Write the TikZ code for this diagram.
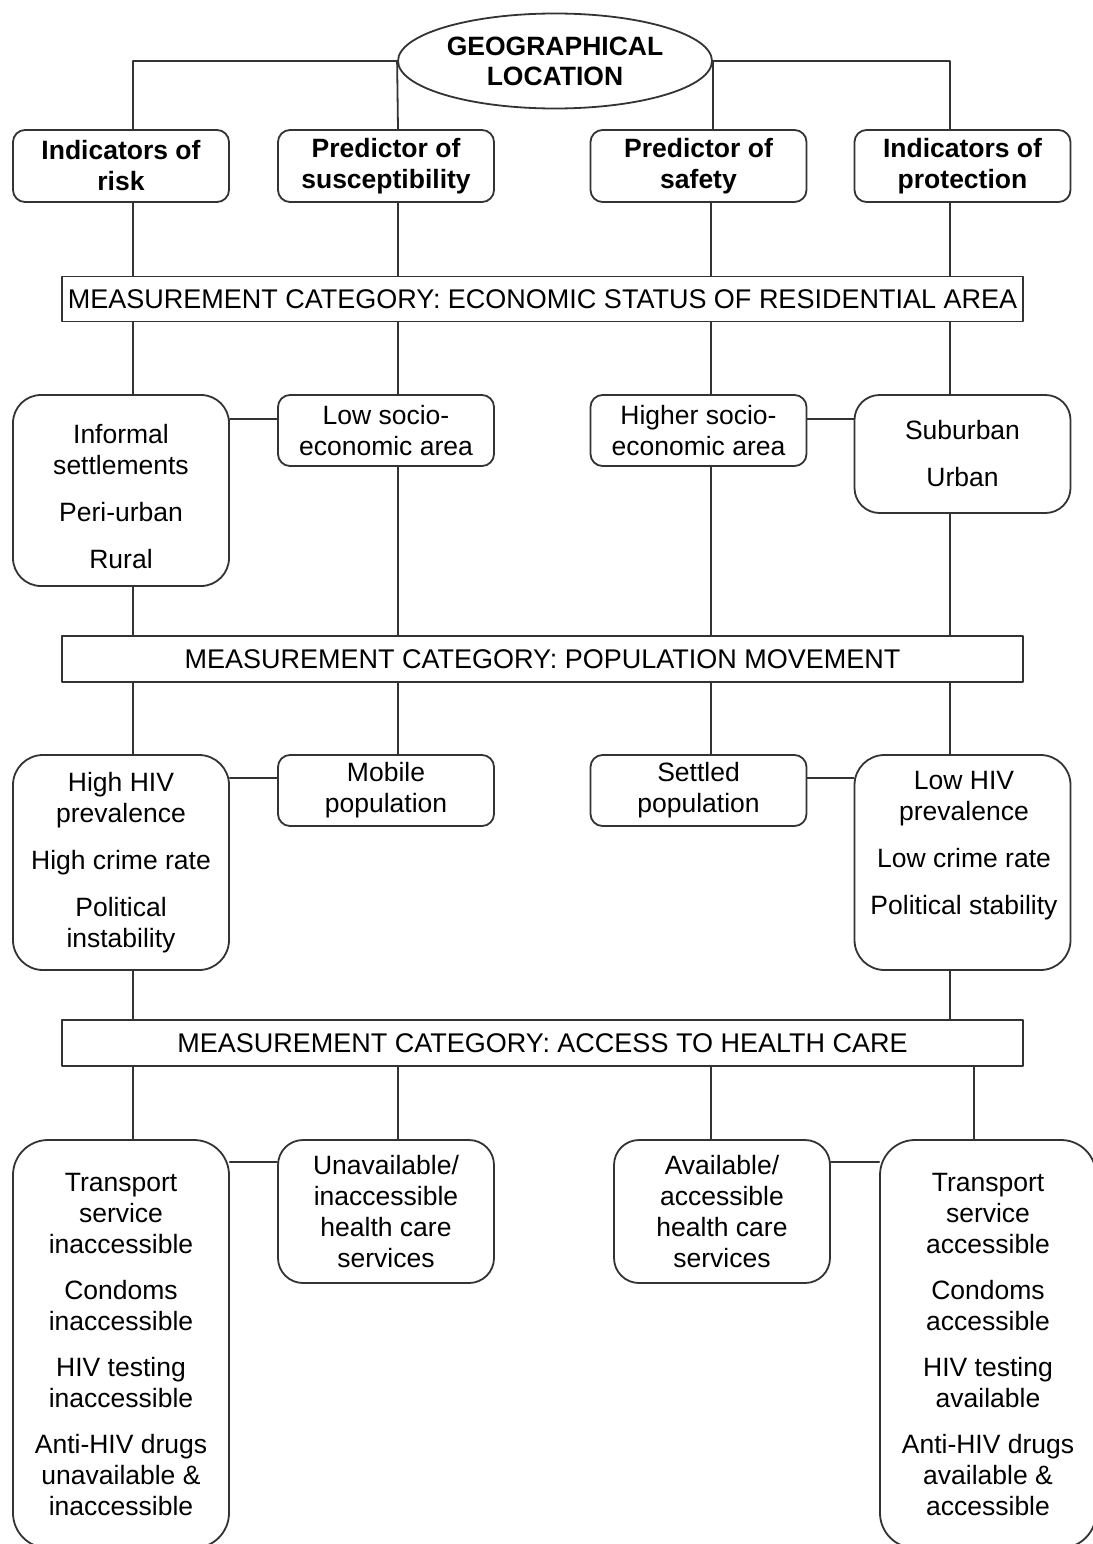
\documentclass[tikz,border=0pt]{standalone}
\usepackage{fontspec}
\setmainfont{Liberation Sans}
\usetikzlibrary{shapes.geometric}
\begin{document}
\begin{tikzpicture}[x=1pt, y=-1pt, line join=round, line cap=round,
	every node/.style={font=\fontsize{26.5}{31}\selectfont, align=center, inner sep=0pt},
	line/.style={draw=black!80, line width=1.8pt},
	head/.style={line, rounded corners=12pt, minimum width=216pt, minimum height=72pt, font=\fontsize{26.5}{31}\selectfont\bfseries},
	small/.style={line, rounded corners=12pt, minimum width=216pt, minimum height=71pt},
	big/.style={line, rounded corners=#1, minimum width=216pt},
	bar/.style={line, minimum width=961pt, font=\fontsize{27}{31}\selectfont}]
	\useasboundingbox (0,0) rectangle (1092,1544);
	%Các cột đường nối
	\coordinate (colA) at (133,0);  \coordinate (colB) at (398,0);
	\coordinate (colC) at (711,0);  \coordinate (colD) at (950,0);
	\coordinate (colE) at (974,0);
	%Nút gốc và hàng tiêu đề
	\node[line, ellipse, minimum width=314pt, minimum height=95pt, font=\fontsize{26.5}{30}\selectfont\bfseries] (geo) at (555,61) {GEOGRAPHICAL\\LOCATION};
	\node[head] (risk) at (121,166) {Indicators of\\risk};
	\node[head] (susc) at (386,166) {Predictor of\\susceptibility};
	\node[head] (safe) at (698.5,166) {Predictor of\\safety};
	\node[head] (prot) at (962.5,166) {Indicators of\\protection};
	%Các thanh đo lường
	\node[bar, minimum height=45pt] (barA) at (542.5,299) {MEASUREMENT CATEGORY: ECONOMIC STATUS OF RESIDENTIAL AREA};
	\node[bar, minimum height=46pt] (barB) at (542.5,659) {MEASUREMENT CATEGORY: POPULATION MOVEMENT};
	\node[bar, minimum height=46pt] (barC) at (542.5,1043) {MEASUREMENT CATEGORY: ACCESS TO HEALTH CARE};
	%Hàng 1: tình trạng kinh tế
	\node[big=28pt, minimum height=191pt] (informal) at (121,490.5) {};
	\node (informaltxt) at (121,497) {Informal\\settlements\\[16pt]Peri-urban\\[16pt]Rural};
	\node[small] (lowse) at (386,430.5) {Low socio-\\economic area};
	\node[small] (highse) at (698.5,430.5) {Higher socio-\\economic area};
	\node[big=25pt, minimum height=118pt] (urban) at (962.5,454) {Suburban\\[16pt]Urban};
	%Hàng 2: di chuyển dân số
	\node[big=30pt, minimum height=215pt] (highhiv) at (121,862.5) {High HIV\\prevalence\\[16pt]High crime rate\\[16pt]Political\\instability};
	\node[small] (mobile) at (386,790.5) {Mobile\\population};
	\node[small] (settled) at (698.5,790.5) {Settled\\population};
	\node[big=30pt, minimum height=215pt] (lowhiv) at (962.5,862.5) {};
	\node (lowhivtxt) at (964,846) {Low HIV\\prevalence\\[16pt]Low crime rate\\[16pt]Political stability};
	%Hàng 3: tiếp cận y tế
	\node[big=35pt, minimum height=408pt] (noaccess) at (121,1344) {Transport\\service\\inaccessible\\[15pt]Condoms\\inaccessible\\[15pt]HIV testing\\inaccessible\\[15pt]Anti-HIV drugs\\unavailable \&\\inaccessible};
	\node[big=25pt, minimum height=143pt] (unavail) at (386,1211.5) {Unavailable/\\inaccessible\\health care\\services};
	\node[big=25pt, minimum height=143pt] (avail) at (722,1211.5) {Available/\\accessible\\health care\\services};
	\node[big=35pt, minimum height=408pt] (access) at (988,1344) {Transport\\service\\accessible\\[15pt]Condoms\\accessible\\[15pt]HIV testing\\available\\[15pt]Anti-HIV drugs\\available \&\\accessible};
	%Vẽ các đường nối
	\draw[line] (geo.west) -| (colA |- risk.north);
	\draw[line] (geo.west) -- (colB |- susc.north);
	\draw[line] (geo.east) -| (colD |- prot.north);
	\draw[line] (geo.east) -- (geo.east |- safe.north);
	\foreach \n/\c in {risk/colA, susc/colB, safe/colC, prot/colD}
	\draw[line] (\c |- \n.south) -- (\c |- barA.north);
	\foreach \n/\c in {informal/colA, lowse/colB, highse/colC, urban/colD}{
			\draw[line] (\c |- barA.south) -- (\c |- \n.north);
			\draw[line] (\c |- \n.south) -- (\c |- barB.north);
		}
	\foreach \n/\c in {highhiv/colA, mobile/colB, settled/colC, lowhiv/colD}
	\draw[line] (\c |- barB.south) -- (\c |- \n.north);
	\draw[line] (colA |- highhiv.south) -- (colA |- barC.north);
	\draw[line] (colD |- lowhiv.south) -- (colD |- barC.north);
	\foreach \n/\c in {noaccess/colA, unavail/colB, avail/colC, access/colE}
	\draw[line] (\c |- barC.south) -- (\c |- \n.north);
	%Các đường nối ngang
	\draw[line] ([yshift=-25pt]lowse.north west) -- ([yshift=-25pt]lowse.north west -| informal.east);
	\draw[line] ([yshift=-25pt]highse.north east) -- ([yshift=-25pt]highse.north east -| urban.west);
	\draw[line] ([yshift=-24pt]mobile.north west) -- ([yshift=-24pt]mobile.north west -| highhiv.east);
	\draw[line] ([yshift=-24pt]settled.north east) -- ([yshift=-24pt]settled.north east -| lowhiv.west);
	\draw[line] ([yshift=-23pt]unavail.north west) -- ([yshift=-23pt]unavail.north west -| noaccess.east);
	\draw[line] ([yshift=-23pt]avail.north east) -- ([yshift=-23pt]avail.north east -| access.west);
\end{tikzpicture}
\end{document}
